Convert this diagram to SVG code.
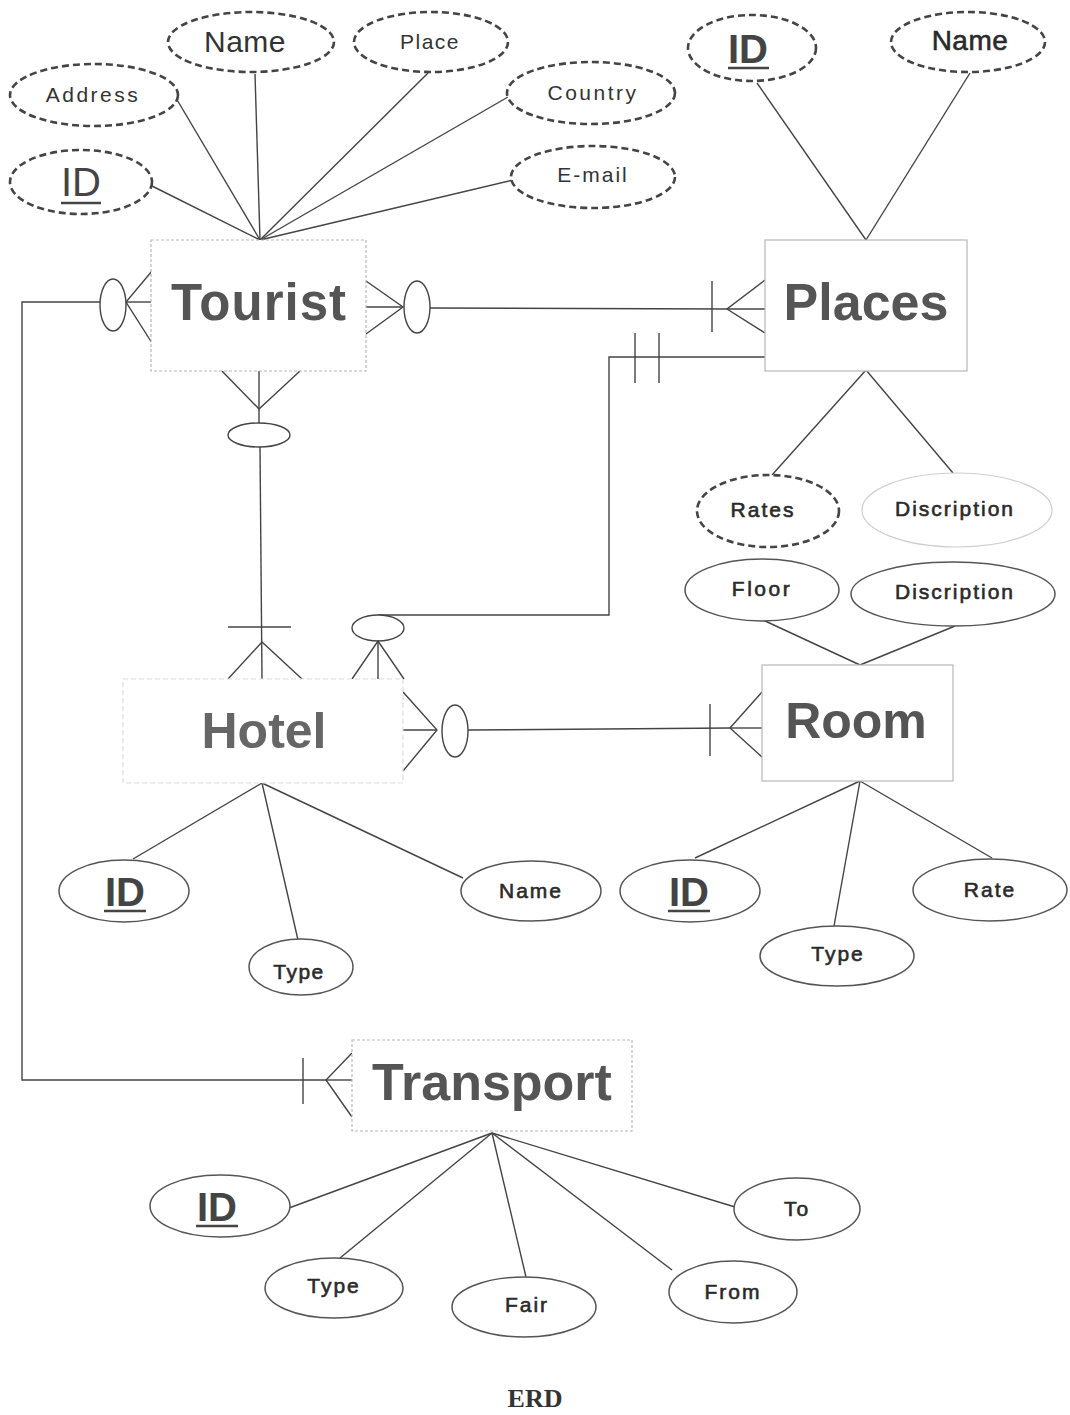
<svg xmlns="http://www.w3.org/2000/svg" width="1070" height="1415" viewBox="0 0 1070 1415">
  <style>
    .bg { fill: #ffffff; }
    .ent { fill: #ffffff; stroke: #b8b8b8; stroke-width: 1.2; }
    .ent-faint { fill: #ffffff; stroke: #dddddd; stroke-width: 1.2; stroke-dasharray: 5 3; }
    .ent-label { font-family: "Liberation Sans", Arial, sans-serif; font-weight: bold; fill: #555555; text-anchor: middle; }
    .attr { fill: #ffffff; stroke: #555555; stroke-width: 1.5; }
    .attr-dash { fill: #ffffff; stroke: #444444; stroke-width: 2.6; stroke-dasharray: 7 4; }
    .attr-faint { fill: #ffffff; stroke: #cfcfcf; stroke-width: 1.2; }
    .txt { font-family: "Liberation Sans", Arial, sans-serif; font-size: 21px; letter-spacing: 2.5px; fill: #333333; text-anchor: middle; }
    .med { fill: #2a2a2a; stroke: #2a2a2a; stroke-width: 0.6; letter-spacing: 2px; }
    .key { font-family: "Liberation Sans", Arial, sans-serif; font-size: 40px; fill: #444444; text-anchor: middle; }
    .ul { stroke: #444444; stroke-width: 2.5; }
    .cn { fill: none; stroke: #444444; stroke-width: 1.4; }
    .opt { fill: #ffffff; stroke: #444444; stroke-width: 1.4; }
    .caption { font-family: "Liberation Serif", "Times New Roman", serif; font-size: 26px; font-weight: bold; fill: #333333; text-anchor: middle; }
  </style>

  <rect class="bg" x="0" y="0" width="1070" height="1415"/>

  <!-- connectors: attribute links and relationships -->
  <g id="connectors">
    <!-- Tourist attributes -->
    <line class="cn" x1="176" y1="98" x2="260" y2="240"/>
    <line class="cn" x1="255" y1="74" x2="260" y2="240"/>
    <line class="cn" x1="428" y1="73" x2="260" y2="240"/>
    <line class="cn" x1="508" y1="97" x2="260" y2="240"/>
    <line class="cn" x1="513" y1="180" x2="260" y2="240"/>
    <line class="cn" x1="152" y1="186" x2="260" y2="240"/>
    <!-- Places attributes -->
    <line class="cn" x1="757" y1="83" x2="866" y2="240"/>
    <line class="cn" x1="970" y1="73" x2="866" y2="240"/>
    <line class="cn" x1="866" y1="370" x2="772" y2="475"/>
    <line class="cn" x1="866" y1="370" x2="953" y2="473"/>
    <!-- Room attributes -->
    <line class="cn" x1="763" y1="620" x2="860" y2="665"/>
    <line class="cn" x1="955" y1="626" x2="860" y2="665"/>
    <line class="cn" x1="860" y1="781" x2="695" y2="858"/>
    <line class="cn" x1="860" y1="781" x2="834" y2="926"/>
    <line class="cn" x1="860" y1="781" x2="992" y2="858"/>
    <!-- Hotel attributes -->
    <line class="cn" x1="262" y1="783" x2="133" y2="859"/>
    <line class="cn" x1="262" y1="783" x2="298" y2="940"/>
    <line class="cn" x1="262" y1="783" x2="463" y2="878"/>
    <!-- Transport attributes -->
    <line class="cn" x1="492" y1="1133" x2="289" y2="1208"/>
    <line class="cn" x1="492" y1="1133" x2="340" y2="1258"/>
    <line class="cn" x1="492" y1="1133" x2="526" y2="1277"/>
    <line class="cn" x1="492" y1="1133" x2="672" y2="1270"/>
    <line class="cn" x1="492" y1="1133" x2="735" y2="1207"/>

    <!-- Tourist (many, optional) to Places (one or many) -->
    <polyline class="cn" points="366,281 403,307 366,334"/>
    <line class="cn" x1="366" y1="307" x2="403" y2="307"/>
    <ellipse class="opt" cx="417" cy="307" rx="13" ry="26"/>
    <line class="cn" x1="430" y1="308" x2="727" y2="309"/>
    <line class="cn" x1="712" y1="281" x2="712" y2="332"/>
    <polyline class="cn" points="765,280 727,309 765,333"/>
    <line class="cn" x1="727" y1="309" x2="765" y2="309"/>

    <!-- Tourist (many, optional) to Transport (one or many) -->
    <polyline class="cn" points="152,271 126,302 152,343"/>
    <line class="cn" x1="126" y1="302" x2="152" y2="302"/>
    <ellipse class="opt" cx="113" cy="305" rx="13" ry="26"/>
    <polyline class="cn" points="100,302 22,302 22,1080 326,1080"/>
    <line class="cn" x1="303" y1="1058" x2="303" y2="1104"/>
    <polyline class="cn" points="352,1053 326,1080 352,1117"/>
    <line class="cn" x1="326" y1="1080" x2="352" y2="1080"/>

    <!-- Tourist (many, optional) to Hotel (one or many) -->
    <polyline class="cn" points="222,371 259,409 300,371"/>
    <line class="cn" x1="259" y1="371" x2="259" y2="423"/>
    <ellipse class="opt" cx="259" cy="435" rx="31" ry="12"/>
    <line class="cn" x1="260" y1="447" x2="262" y2="679"/>
    <line class="cn" x1="228" y1="627" x2="291" y2="627"/>
    <polyline class="cn" points="228,679 262,642 302,679"/>

    <!-- Places (exactly one) to Hotel (zero or many) -->
    <polyline class="cn" points="765,357 609,357 609,615 378,615"/>
    <line class="cn" x1="635" y1="333" x2="635" y2="383"/>
    <line class="cn" x1="659" y1="333" x2="659" y2="383"/>
    <ellipse class="opt" cx="378" cy="628" rx="26" ry="13"/>
    <polyline class="cn" points="352,679 378,641 404,679"/>
    <line class="cn" x1="378" y1="641" x2="378" y2="679"/>

    <!-- Hotel (many, optional) to Room (one or many) -->
    <polyline class="cn" points="403,692 437,730 403,771"/>
    <line class="cn" x1="403" y1="730" x2="437" y2="730"/>
    <ellipse class="opt" cx="455" cy="731" rx="13" ry="26"/>
    <line class="cn" x1="468" y1="730" x2="730" y2="728"/>
    <line class="cn" x1="710" y1="704" x2="710" y2="756"/>
    <polyline class="cn" points="762,692 730,728 762,757"/>
    <line class="cn" x1="730" y1="728" x2="762" y2="728"/>
  </g>

  <!-- Tourist entity and attributes -->
  <g id="tourist">
    <rect class="ent" x="151" y="240" width="215" height="131" stroke-dasharray="3 2"/>
    <text class="ent-label" x="259" y="320" style="font-size:51px; letter-spacing:1px">Tourist</text>
  </g>
  <g id="tourist-name">
    <ellipse class="attr-dash" cx="251" cy="42" rx="83" ry="30"/>
    <text class="txt" x="245" y="52" style="font-size:30px; letter-spacing:0.5px">Name</text>
  </g>
  <g id="tourist-place">
    <ellipse class="attr-dash" cx="431" cy="42" rx="77" ry="30"/>
    <text class="txt" x="430" y="49" style="letter-spacing:1.5px">Place</text>
  </g>
  <g id="tourist-address">
    <ellipse class="attr-dash" cx="94" cy="95" rx="84" ry="31"/>
    <text class="txt" x="93" y="102">Address</text>
  </g>
  <g id="tourist-country">
    <ellipse class="attr-dash" cx="591" cy="93" rx="84" ry="31"/>
    <text class="txt" x="593" y="100">Country</text>
  </g>
  <g id="tourist-id">
    <ellipse class="attr-dash" cx="81" cy="182" rx="71" ry="32"/>
    <text class="key" x="81" y="196">ID</text>
    <line class="ul" x1="61" y1="203" x2="101" y2="203"/>
  </g>
  <g id="tourist-email">
    <ellipse class="attr-dash" cx="593" cy="177" rx="82" ry="31"/>
    <text class="txt" x="593" y="182" style="letter-spacing:2px">E-mail</text>
  </g>

  <!-- Places entity and attributes -->
  <g id="places">
    <rect class="ent" x="765" y="240" width="202" height="131"/>
    <text class="ent-label" x="866" y="320" style="font-size:52px">Places</text>
  </g>
  <g id="places-id">
    <ellipse class="attr-dash" cx="752" cy="48" rx="64" ry="33"/>
    <text class="key" x="748" y="63" style="font-weight:bold">ID</text>
    <line class="ul" x1="728" y1="68" x2="769" y2="68"/>
  </g>
  <g id="places-name">
    <ellipse class="attr-dash" cx="968" cy="42" rx="77" ry="30"/>
    <text class="txt med" x="970" y="50" style="font-size:28px; letter-spacing:0.5px">Name</text>
  </g>
  <g id="places-rates">
    <ellipse class="attr-dash" cx="768" cy="511" rx="71" ry="36"/>
    <text class="txt med" x="763" y="517">Rates</text>
  </g>
  <g id="places-description">
    <ellipse class="attr-faint" cx="957" cy="510" rx="95" ry="37"/>
    <text class="txt med" x="955" y="516">Discription</text>
  </g>

  <!-- Room entity and attributes -->
  <g id="room">
    <rect class="ent" x="762" y="665" width="191" height="116"/>
    <text class="ent-label" x="856" y="738" style="font-size:50px">Room</text>
  </g>
  <g id="room-floor">
    <ellipse class="attr" cx="762" cy="590" rx="77" ry="31"/>
    <text class="txt med" x="762" y="596" style="letter-spacing:2.5px">Floor</text>
  </g>
  <g id="room-description">
    <ellipse class="attr" cx="953" cy="594" rx="102" ry="32"/>
    <text class="txt med" x="955" y="599">Discription</text>
  </g>
  <g id="room-id">
    <ellipse class="attr" cx="690" cy="891" rx="70" ry="31"/>
    <text class="key" x="689" y="906" style="font-weight:bold">ID</text>
    <line class="ul" x1="668" y1="911" x2="710" y2="911"/>
  </g>
  <g id="room-type">
    <ellipse class="attr" cx="837" cy="956" rx="77" ry="30"/>
    <text class="txt med" x="838" y="961">Type</text>
  </g>
  <g id="room-rate">
    <ellipse class="attr" cx="990" cy="890" rx="77" ry="31"/>
    <text class="txt med" x="990" y="897">Rate</text>
  </g>

  <!-- Hotel entity and attributes -->
  <g id="hotel">
    <rect class="ent-faint" x="123" y="679" width="280" height="104"/>
    <text class="ent-label" x="264" y="748" style="font-size:50px; fill:#666666">Hotel</text>
  </g>
  <g id="hotel-id">
    <ellipse class="attr" cx="124" cy="891" rx="65" ry="31"/>
    <text class="key" x="125" y="906" style="font-weight:bold">ID</text>
    <line class="ul" x1="104" y1="911" x2="146" y2="911"/>
  </g>
  <g id="hotel-type">
    <ellipse class="attr" cx="301" cy="967" rx="52" ry="28"/>
    <text class="txt med" x="299" y="979" style="letter-spacing:1.5px">Type</text>
  </g>
  <g id="hotel-name">
    <ellipse class="attr" cx="531" cy="891" rx="70" ry="30"/>
    <text class="txt med" x="531" y="898">Name</text>
  </g>

  <!-- Transport entity and attributes -->
  <g id="transport">
    <rect class="ent" x="352" y="1040" width="280" height="91" stroke-dasharray="3 2"/>
    <text class="ent-label" x="492" y="1100" style="font-size:52px">Transport</text>
  </g>
  <g id="transport-id">
    <ellipse class="attr" cx="220" cy="1206" rx="70" ry="31"/>
    <text class="key" x="217" y="1221" style="font-weight:bold">ID</text>
    <line class="ul" x1="196" y1="1226" x2="238" y2="1226"/>
  </g>
  <g id="transport-type">
    <ellipse class="attr" cx="334" cy="1288" rx="69" ry="30"/>
    <text class="txt med" x="334" y="1293">Type</text>
  </g>
  <g id="transport-fair">
    <ellipse class="attr" cx="524" cy="1307" rx="72" ry="30"/>
    <text class="txt med" x="527" y="1312">Fair</text>
  </g>
  <g id="transport-from">
    <ellipse class="attr" cx="733" cy="1292" rx="64" ry="31"/>
    <text class="txt med" x="733" y="1299">From</text>
  </g>
  <g id="transport-to">
    <ellipse class="attr" cx="797" cy="1209" rx="63" ry="31"/>
    <text class="txt med" x="797" y="1216">To</text>
  </g>

  <text class="caption" x="535" y="1407">ERD</text>
</svg>
